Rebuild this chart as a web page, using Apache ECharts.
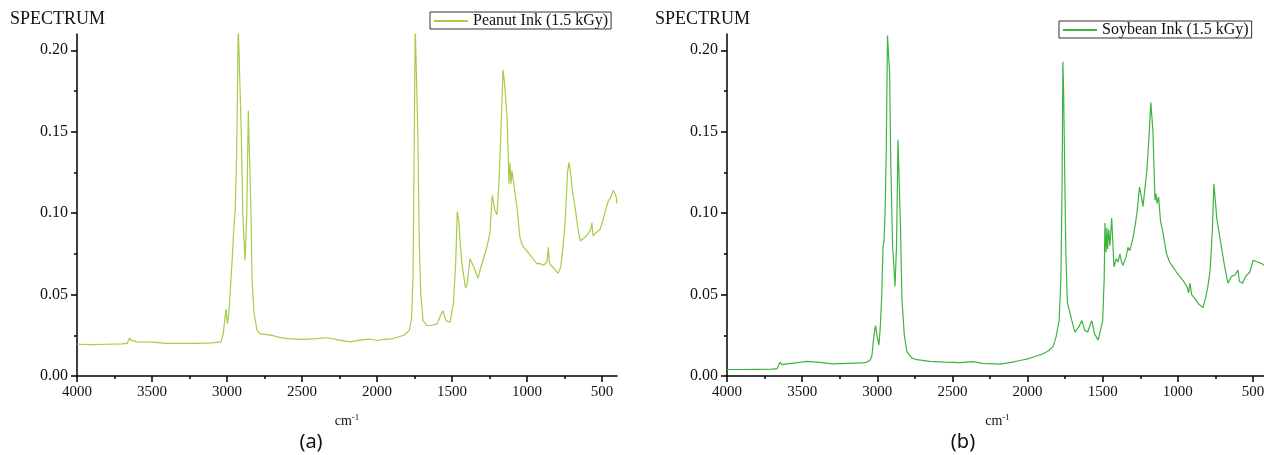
<!DOCTYPE html>
<html>
<head>
<meta charset="utf-8">
<script src="https://cdn.jsdelivr.net/npm/echarts@6/dist/echarts.min.js"></script>
<style>
  html, body { margin: 0; padding: 0; background: #fff; }
  #chart { width: 1264px; height: 455px; }
</style>
</head>
<body>
<div id="chart"></div>
<script>
// FTIR spectra: [wavenumber cm-1, absorbance]
var peanutSpectrum = [
  [4000,0.0195],[3900,0.0193],[3800,0.0195],[3700,0.0197],[3665,0.020],[3650,0.0235],[3640,0.022],
  [3600,0.021],[3500,0.0208],[3400,0.020],[3300,0.020],[3200,0.020],[3100,0.0203],[3040,0.021],
  [3025,0.026],[3007,0.041],[2997,0.032],[2987,0.039],[2967,0.069],[2955,0.090],[2945,0.102],
  [2935,0.14],[2925,0.215],[2915,0.215],[2905,0.15],[2895,0.10],[2880,0.071],[2868,0.10],
  [2858,0.163],[2850,0.163],[2840,0.10],[2833,0.059],[2820,0.039],[2800,0.028],[2780,0.026],
  [2700,0.025],[2667,0.024],[2600,0.023],[2500,0.0225],[2400,0.023],[2333,0.0235],[2250,0.022],
  [2180,0.021],[2100,0.0222],[2047,0.0227],[2000,0.0218],[1950,0.0225],[1893,0.023],[1820,0.025],
  [1785,0.028],[1770,0.035],[1760,0.06],[1752,0.14],[1745,0.215],[1736,0.215],[1728,0.15],
  [1718,0.08],[1708,0.05],[1693,0.034],[1680,0.033],[1667,0.031],[1640,0.031],[1600,0.032],
  [1577,0.037],[1560,0.040],[1540,0.034],[1513,0.033],[1490,0.045],[1475,0.07],[1465,0.101],
  [1455,0.096],[1448,0.085],[1435,0.07],[1410,0.054],[1400,0.056],[1380,0.072],[1367,0.073],
  [1350,0.066],[1327,0.060],[1310,0.066],[1290,0.072],[1265,0.080],[1247,0.088],[1232,0.111],
  [1215,0.102],[1200,0.099],[1185,0.122],[1170,0.160],[1160,0.188],[1150,0.180],[1133,0.159],
  [1125,0.135],[1120,0.118],[1113,0.131],[1107,0.118],[1100,0.126],[1093,0.125],[1080,0.112],
  [1067,0.104],[1047,0.085],[1030,0.080],[1013,0.078],[985,0.075],[960,0.072],[935,0.069],
  [913,0.069],[890,0.068],[867,0.070],[858,0.079],[850,0.069],[820,0.066],[793,0.063],
  [775,0.067],[760,0.079],[745,0.096],[730,0.125],[720,0.131],[710,0.125],[695,0.112],
  [680,0.104],[660,0.090],[645,0.083],[633,0.082],[615,0.085],[595,0.087],[575,0.090],
  [567,0.094],[560,0.086],[540,0.088],[513,0.090],[490,0.097],[475,0.102],[460,0.107],
  [440,0.110],[425,0.114],[413,0.115],[405,0.110],[400,0.106]
];

var soybeanSpectrum = [
  [4000,0.0040],[3900,0.0040],[3800,0.0041],[3700,0.0042],[3667,0.0045],[3655,0.007],[3647,0.0085],
  [3635,0.007],[3600,0.0075],[3530,0.0082],[3468,0.0090],[3400,0.0085],[3295,0.0075],[3200,0.0078],
  [3100,0.0080],[3069,0.0085],[3045,0.010],[3035,0.013],[3022,0.025],[3012,0.031],[3000,0.024],
  [2989,0.019],[2980,0.030],[2970,0.050],[2962,0.079],[2955,0.083],[2948,0.10],[2940,0.14],
  [2932,0.209],[2926,0.209],[2918,0.186],[2910,0.131],[2898,0.08],[2882,0.055],[2872,0.08],
  [2862,0.145],[2855,0.145],[2845,0.09],[2836,0.047],[2820,0.025],[2803,0.015],[2770,0.011],
  [2736,0.0100],[2650,0.009],[2550,0.0085],[2450,0.0082],[2363,0.0088],[2300,0.0078],[2183,0.0073],
  [2100,0.0085],[2050,0.0095],[2000,0.0105],[1950,0.0120],[1900,0.0135],[1860,0.0155],[1831,0.018],
  [1810,0.024],[1790,0.034],[1778,0.06],[1770,0.12],[1765,0.193],[1760,0.175],[1752,0.12],
  [1745,0.075],[1735,0.045],[1705,0.034],[1685,0.027],[1660,0.030],[1638,0.034],[1620,0.028],
  [1600,0.027],[1585,0.031],[1572,0.034],[1555,0.026],[1530,0.022],[1518,0.021],[1500,0.034],
  [1490,0.060],[1485,0.094],[1478,0.076],[1472,0.091],[1467,0.078],[1460,0.090],[1452,0.080],
  [1440,0.097],[1425,0.067],[1410,0.072],[1398,0.070],[1385,0.075],[1375,0.070],[1365,0.068],
  [1345,0.073],[1332,0.079],[1320,0.077],[1300,0.084],[1285,0.092],[1272,0.100],[1255,0.116],
  [1242,0.110],[1232,0.104],[1206,0.126],[1190,0.150],[1180,0.168],[1166,0.151],[1152,0.108],
  [1145,0.112],[1138,0.106],[1128,0.110],[1115,0.095],[1099,0.088],[1075,0.075],[1055,0.070],
  [1033,0.067],[1010,0.064],[986,0.061],[960,0.058],[940,0.055],[928,0.051],[920,0.057],
  [908,0.050],[890,0.048],[860,0.044],[833,0.042],[815,0.048],[800,0.055],[785,0.065],
  [770,0.090],[760,0.118],[752,0.118],[740,0.096],[720,0.085],[706,0.077],[690,0.068],
  [667,0.057],[645,0.061],[620,0.062],[600,0.065],[590,0.058],[570,0.057],[550,0.061],
  [520,0.064],[500,0.071],[470,0.070],[440,0.069],[427,0.068]
];

var xMajorTicks = [4000, 3500, 3000, 2500, 2000, 1500, 1000, 500];
var xMinorTicks = [3750, 3250, 2750, 2250, 1750, 1250, 750];
var yMajorTicks = [0, 0.05, 0.10, 0.15, 0.20];
var yMinorTicks = [0.025, 0.075, 0.125, 0.175];

var seriesNames = ['Peanut Ink (1.5 kGy)', 'Soybean Ink (1.5 kGy)'];
var seriesColors = ['#a6cc48', '#3fb33f'];

var SERIF = '"Liberation Serif", "Times New Roman", serif';

var chart = echarts.init(document.getElementById('chart'));

function xAxes(gridIndex) {
  return [
    {
      gridIndex: gridIndex, type: 'value', min: 400, max: 4000, inverse: true, position: 'bottom',
      name: '{a|cm}{b|-1}', nameLocation: 'middle', nameGap: 37,
      nameTextStyle: {
        rich: {
          a: { fontFamily: SERIF, fontSize: 14, color: '#111' },
          b: { fontFamily: SERIF, fontSize: 9, color: '#111', padding: [0, 0, 8, 0] }
        }
      },
      axisLine: { show: true, lineStyle: { color: '#000', width: 1.5 } },
      axisTick: { show: true, customValues: xMajorTicks, length: 6, lineStyle: { color: '#000', width: 1.5 } },
      axisLabel: {
        customValues: xMajorTicks, margin: 9, color: '#111',
        fontFamily: SERIF, fontSize: 15,
        formatter: function (v) { return String(v); }
      },
      splitLine: { show: false }
    },
    {
      gridIndex: gridIndex, type: 'value', min: 400, max: 4000, inverse: true, position: 'bottom',
      axisLine: { show: false },
      axisTick: { show: true, customValues: xMinorTicks, length: 3, lineStyle: { color: '#000', width: 1.5 } },
      axisLabel: { show: false },
      splitLine: { show: false }
    }
  ];
}

function yAxes(gridIndex) {
  return [
    {
      gridIndex: gridIndex, type: 'value', min: 0, max: 0.21, position: 'left',
      axisLine: { show: true, lineStyle: { color: '#000', width: 1.5 } },
      axisTick: { show: true, customValues: yMajorTicks, length: 6, lineStyle: { color: '#000', width: 1.5 } },
      axisLabel: {
        customValues: yMajorTicks, margin: 9, color: '#111',
        fontFamily: SERIF, fontSize: 16,
        formatter: function (v) { return v.toFixed(2); }
      },
      splitLine: { show: false }
    },
    {
      gridIndex: gridIndex, type: 'value', min: 0, max: 0.21, position: 'left',
      axisLine: { show: false },
      axisTick: { show: true, customValues: yMinorTicks, length: 3, lineStyle: { color: '#000', width: 1.5 } },
      axisLabel: { show: false },
      splitLine: { show: false }
    }
  ];
}

function legend(name, left, top) {
  return {
    data: [name], left: left, top: top, orient: 'horizontal',
    backgroundColor: '#fff', borderColor: '#333', borderWidth: 1,
    padding: [1, 3, 0, 3], itemWidth: 34, itemHeight: 10,
    itemStyle: { opacity: 0 },
    textStyle: { fontFamily: SERIF, fontSize: 16, color: '#111' }
  };
}

var option = {
  animation: false,
  backgroundColor: '#fff',
  grid: [
    { left: 77, top: 34, width: 540, height: 342, outerBoundsMode: 'none' },
    { left: 727, top: 34, width: 541, height: 342, outerBoundsMode: 'none' }
  ],
  xAxis: xAxes(0).concat(xAxes(1)),
  yAxis: yAxes(0).concat(yAxes(1)),
  legend: [
    legend(seriesNames[0], 430, 12),
    legend(seriesNames[1], 1059, 21)
  ],
  graphic: [
    { type: 'text', left: 10, top: 10, style: { text: 'SPECTRUM', fontFamily: SERIF, fontSize: 18, fill: '#111' } },
    { type: 'text', left: 655, top: 10, style: { text: 'SPECTRUM', fontFamily: SERIF, fontSize: 18, fill: '#111' } },
    { type: 'text', x: 311, y: 442, style: { text: '(a)', fontFamily: '"Noto Sans", sans-serif', fontSize: 20, fill: '#111', align: 'center', verticalAlign: 'middle' } },
    { type: 'text', x: 963, y: 442, style: { text: '(b)', fontFamily: '"Noto Sans", sans-serif', fontSize: 20, fill: '#111', align: 'center', verticalAlign: 'middle' } }
  ],
  series: [
    {
      name: seriesNames[0], type: 'line', xAxisIndex: 0, yAxisIndex: 0,
      data: peanutSpectrum, symbol: 'none', showSymbol: false, clip: true,
      color: seriesColors[0], lineStyle: { color: seriesColors[0], width: 1.2 }
    },
    {
      name: seriesNames[1], type: 'line', xAxisIndex: 2, yAxisIndex: 2,
      data: soybeanSpectrum, symbol: 'none', showSymbol: false, clip: true,
      color: seriesColors[1], lineStyle: { color: seriesColors[1], width: 1.2 }
    }
  ]
};

chart.setOption(option);
</script>
</body>
</html>
